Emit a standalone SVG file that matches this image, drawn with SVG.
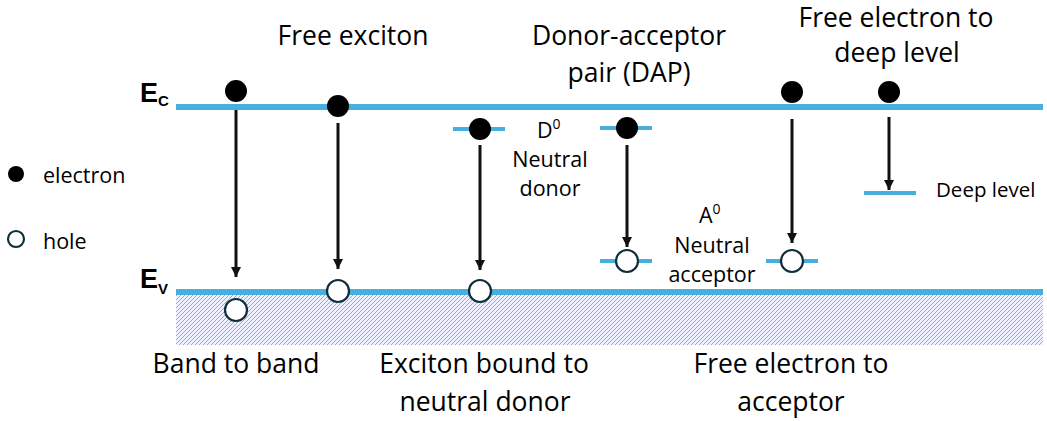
<svg xmlns="http://www.w3.org/2000/svg" width="1047" height="421" viewBox="0 0 1047 421">
<defs>
<style>
.t{font-family:"Open Sans","Liberation Sans",sans-serif;fill:#000;}
.big{font-size:26.5px;}
.sm{font-size:21.5px;}
.lbl{font-family:"Liberation Sans",Arial,sans-serif;font-weight:bold;fill:#000;}
.band{stroke:#47afe0;stroke-width:6;fill:none;}
.lvl{stroke:#47afe0;stroke-width:4;fill:none;}
.el{fill:#000;}
.ho{fill:#fff;stroke:#0f2e3b;stroke-width:2.2;}
.ar{stroke:#111;stroke-width:3;fill:none;}
</style>
<pattern id="hatch" width="4" height="4" patternUnits="userSpaceOnUse">
<rect width="4" height="4" fill="#eef1fd"/>
<path d="M-1,1 L1,-1 M0,4 L4,0 M3,5 L5,3" stroke="#7d92f2" stroke-width="0.8"/>
</pattern>
<marker id="ah" viewBox="0 0 10 10" refX="10" refY="5" markerWidth="10" markerHeight="11" markerUnits="userSpaceOnUse" orient="auto">
<path d="M0,0 L10,5 L0,10 Z" fill="#111"/>
</marker>
</defs>
<rect width="1047" height="421" fill="#fff"/>

<g id="bands">
<rect x="176" y="295" width="867" height="50" fill="url(#hatch)"/>
<line class="band" x1="176" y1="107" x2="1043" y2="107"/>
<line class="band" x1="176" y1="292" x2="1043" y2="292"/>
<text class="lbl" x="140" y="102" font-size="27">E<tspan font-size="15" dy="4">C</tspan></text>
<text class="lbl" x="140" y="288" font-size="27">E<tspan font-size="15" dy="6">V</tspan></text>
</g>

<g id="legend">
<circle class="el" cx="16" cy="174" r="8"/>
<text class="t sm" x="43" y="183">electron</text>
<circle class="ho" cx="16" cy="239" r="8"/>
<text class="t sm" x="43" y="249">hole</text>
</g>

<g id="band-to-band">
<circle class="el" cx="236" cy="91" r="11"/>
<circle class="ho" cx="236" cy="310" r="11"/>
<text class="t big" x="236" y="373" text-anchor="middle">Band to band</text>
</g>

<g id="free-exciton">
<circle class="el" cx="338" cy="106" r="11"/>
<circle class="ho" cx="338" cy="291" r="11"/>
<text class="t big" x="353" y="45" text-anchor="middle">Free exciton</text>
</g>

<g id="exciton-bound-donor">
<line class="lvl" x1="453" y1="129" x2="505" y2="129"/>
<circle class="el" cx="480" cy="129" r="11"/>
<circle class="ho" cx="480" cy="291" r="11"/>
<text class="t sm" x="537" y="138">D<tspan font-size="14" dy="-9">0</tspan></text>
<text class="t sm" x="550" y="167" text-anchor="middle">Neutral</text>
<text class="t sm" x="550" y="196" text-anchor="middle">donor</text>
<text class="t big" x="484" y="373" text-anchor="middle">Exciton bound to</text>
<text class="t big" x="485" y="411" text-anchor="middle">neutral donor</text>
</g>

<g id="dap">
<line class="lvl" x1="600" y1="128" x2="652" y2="128"/>
<circle class="el" cx="627" cy="128" r="11"/>
<line class="lvl" x1="600" y1="261" x2="652" y2="261"/>
<circle class="ho" cx="627" cy="261" r="11"/>
<text class="t sm" x="699" y="223">A<tspan font-size="14" dy="-9">0</tspan></text>
<text class="t sm" x="712" y="253" text-anchor="middle">Neutral</text>
<text class="t sm" x="712" y="282" text-anchor="middle">acceptor</text>
<text class="t big" x="629" y="45" text-anchor="middle">Donor-acceptor</text>
<text class="t big" x="629" y="82" text-anchor="middle">pair (DAP)</text>
</g>

<g id="free-electron-acceptor">
<circle class="el" cx="792" cy="92" r="11"/>
<line class="lvl" x1="766" y1="261" x2="818" y2="261"/>
<circle class="ho" cx="792" cy="261" r="11"/>
<text class="t big" x="791" y="373" text-anchor="middle">Free electron to</text>
<text class="t big" x="791" y="411" text-anchor="middle">acceptor</text>
</g>

<g id="free-electron-deep">
<circle class="el" cx="889" cy="92" r="11"/>
<line class="lvl" x1="864" y1="193" x2="916" y2="193"/>
<text class="t" font-size="20.5" x="936" y="197">Deep level</text>
<text class="t big" x="896" y="27" text-anchor="middle">Free electron to</text>
<text class="t big" x="897" y="62" text-anchor="middle">deep level</text>
</g>

<g id="connectors">
<line class="ar" x1="236" y1="110" x2="236" y2="277" marker-end="url(#ah)"/>
<line class="ar" x1="338" y1="123" x2="338" y2="269" marker-end="url(#ah)"/>
<line class="ar" x1="480" y1="145" x2="480" y2="270" marker-end="url(#ah)"/>
<line class="ar" x1="627" y1="145" x2="627" y2="247" marker-end="url(#ah)"/>
<line class="ar" x1="792" y1="119" x2="792" y2="243" marker-end="url(#ah)"/>
<line class="ar" x1="889" y1="117" x2="889" y2="190" marker-end="url(#ah)"/>
</g>
</svg>
